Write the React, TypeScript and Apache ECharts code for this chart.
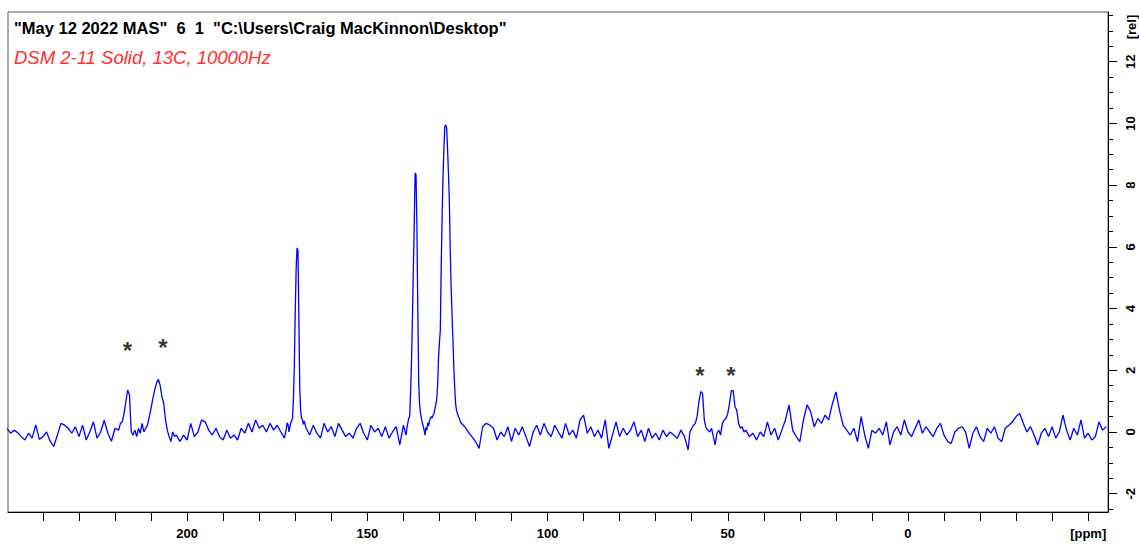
import { useEffect, useRef } from 'react';
import * as echarts from 'echarts';

// ---------- texts ----------
const titleLine = '"May 12 2022 MAS"  6  1  "C:\\Users\\Craig MacKinnon\\Desktop"';
const subtitleLine = 'DSM 2-11 Solid, 13C, 10000Hz';
const xUnitLabel = '[ppm]';
const yUnitLabel = '[rel]';

// ---------- axes ----------
const xMajorTicks = [200, 150, 100, 50, 0, -50];
const xMinorTicks = [240, 230, 220, 210, 200, 190, 180, 170, 160, 150, 140, 130, 120, 110, 100, 90, 80, 70, 60, 50, 40, 30, 20, 10, 0, -10, -20, -30, -40, -50];
const yMajorTicks = [-2, 0, 2, 4, 6, 8, 10, 12];
const yMinorTicks = [-2.5, -2, -1.5, -1, -0.5, 0, 0.5, 1, 1.5, 2, 2.5, 3, 3.5, 4, 4.5, 5, 5.5, 6, 6.5, 7, 7.5, 8, 8.5, 9, 9.5, 10, 10.5, 11, 11.5, 12, 12.5, 13, 13.5];

// ---------- spectrum (intensity, per ppm segment) ----------
// segment 1: 250 -> 219 ppm, step 1
const seg1Start = 250, seg1Step = 1;
const seg1 = [0.12, -0.04, 0.06, -0.02, -0.15, -0.26, -0.04, -0.2, 0.23, -0.24, -0.15, 0.0, -0.3, -0.47, -0.1, 0.28, 0.22, 0.12, -0.04, 0.17, -0.15, 0.22, -0.26, 0.0, 0.33, -0.2, 0.0, 0.38, -0.04, -0.3, 0.12, 0.06];
// segment 2: spinning sidebands, 218.5 -> 203 ppm, step 0.5
const seg2Start = 218.5, seg2Step = 0.5;
const seg2 = [0.28, 0.33, 0.6, 0.98, 1.36, 1.2, 0.0, -0.1, 0.06, -0.15, 0.12, -0.04, 0.28, 0.0, 0.12, 0.22, 0.5, 0.77, 1.09, 1.36, 1.58, 1.71, 1.52, 1.15, 0.93, 0.39, 0.06, -0.15, -0.31, 0.0, -0.15, -0.1];
// segment 3: 202 -> 173 ppm, step 1
const seg3Start = 202, seg3Step = 1;
const seg3 = [-0.31, -0.1, -0.26, 0.28, -0.15, 0.0, 0.39, 0.33, 0.06, -0.1, 0.12, -0.15, -0.26, 0.06, -0.2, -0.1, -0.26, 0.12, -0.04, 0.28, 0.0, 0.39, 0.12, 0.22, 0.0, 0.28, 0.06, 0.22, 0.0, -0.2];
// segment 4: carbonyl peak, 172.5 -> 167.5 ppm, step 0.25
const seg4Start = 172.5, seg4Step = 0.25;
const seg4 = [0.1, 0.3, 0.25, 0.0, 0.15, 0.3, 0.35, 0.45, 1.1, 2.2, 3.9, 5.3, 5.96, 5.9, 3.7, 1.4, 0.7, 0.45, 0.4, 0.25, 0.35];
// segment 5: 167 -> 140 ppm, step 1
const seg5Start = 167, seg5Step = 1;
const seg5 = [0.12, -0.1, 0.22, -0.04, -0.2, 0.28, 0.0, 0.17, -0.15, 0.28, 0.06, -0.15, -0.04, -0.2, 0.12, 0.28, -0.04, -0.26, 0.22, 0.0, 0.12, -0.15, 0.17, -0.2, 0.0, 0.17, -0.42, 0.22];
// segment 6: 137 ppm peak, 139.5 -> 132 ppm, step 0.25
const seg6Start = 139.5, seg6Step = 0.25;
const seg6 = [0.0, -0.1, 0.15, 0.3, 0.45, 0.5, 1.3, 2.3, 3.6, 5.2, 6.6, 8.39, 8.35, 6.7, 4.0, 1.6, 0.9, 0.6, 0.45, 0.3, 0.2, 0.05, -0.1, 0.15, 0.05, 0.3, 0.2, 0.35, 0.45, 0.5, 0.45];
// segment 7: 128 ppm peak, 131.75 -> 124 ppm, step 0.25
const seg7Start = 131.75, seg7Step = 0.25;
const seg7 = [0.55, 0.6, 0.75, 0.9, 1.05, 1.5, 2.4, 2.9, 3.3, 5.4, 7.0, 8.3, 9.2, 9.9, 9.95, 9.85, 9.2, 8.4, 7.5, 5.9, 4.7, 3.8, 3.0, 2.1, 1.4, 0.9, 0.7, 0.6, 0.5, 0.45, 0.35, 0.3];
// segment 8: 123 -> 61 ppm, step 1
const seg8Start = 123, seg8Step = 1;
const seg8 = [0.17, 0.0, -0.15, -0.31, -0.53, 0.17, 0.28, 0.22, 0.12, -0.26, 0.0, -0.15, 0.17, -0.31, 0.12, -0.1, 0.17, -0.15, -0.47, 0.0, 0.22, -0.1, 0.28, 0.0, -0.15, 0.22,
  0.0, -0.2, 0.28, -0.1, 0.06, -0.2, 0.39, 0.55, -0.04, 0.17, -0.15, 0.06, -0.2, 0.39, -0.53, -0.1, 0.33, -0.15, 0.12, -0.1, 0.06, 0.33, -0.15, 0.06, -0.31, 0.12, -0.2, -0.04, -0.26, 0.06, -0.15, 0.0, -0.1, -0.2, 0.06, -0.15, -0.58];
// segment 9: spinning sidebands, 60.5 -> 45 ppm, step 0.5
const seg9Start = 60.5, seg9Step = 0.5;
const seg9 = [0.0, 0.12, 0.22, 0.28, 0.5, 0.98, 1.31, 1.25, 0.39, 0.12, 0.06, 0.0, 0.12, -0.15, -0.42, -0.04, 0.06, -0.1, 0.28, 0.39, 0.44, 0.6, 0.93, 1.34, 1.34, 0.82, 0.71, 0.28, 0.12, 0.17, 0.0, 0.06];
// segment 10: 44 -> -55 ppm, step 1
const seg10Start = 44, seg10Step = 1;
const seg10 = [-0.15, -0.04, -0.26, 0.0, -0.15, 0.33, -0.1, 0.12, -0.26, 0.06, 0.39, 0.88, 0.06, -0.15, -0.31, 0.39, 0.88, 0.66, 0.17, 0.44, 0.28, 0.55, 0.39,
  0.9, 1.3, 0.71, 0.22, 0.06, -0.1, 0.12, -0.31, 0.5, -0.1, -0.53, 0.06, -0.04, 0.12, -0.1, 0.33, -0.42, 0.0, 0.17, -0.1, 0.39, 0.0,
  -0.15, 0.12, 0.39, -0.04, 0.17, 0.0, -0.15, 0.12, 0.28, -0.1, -0.31, -0.37, 0.0, 0.12, 0.17, 0.0, -0.53, -0.04, 0.17, -0.15, -0.31, 0.12, -0.04, 0.17, -0.2, -0.31,
  0.12, 0.22, 0.33, 0.5, 0.6, 0.28, 0.0, 0.17, -0.1, -0.42, -0.04, 0.12, -0.15, 0.17, -0.2, 0.0, 0.55, 0.06, -0.26, 0.12, -0.1, 0.39, -0.2, -0.04, -0.26, -0.15, 0.33, 0.06, 0.17];

// sideband markers [ppm, rel]
const sidebandMarks = [[216.6, 2.75], [206.7, 2.82], [57.7, 1.94], [49.1, 1.94]];

const segments = [
  { start: seg1Start, step: seg1Step, values: seg1 },
  { start: seg2Start, step: seg2Step, values: seg2 },
  { start: seg3Start, step: seg3Step, values: seg3 },
  { start: seg4Start, step: seg4Step, values: seg4 },
  { start: seg5Start, step: seg5Step, values: seg5 },
  { start: seg6Start, step: seg6Step, values: seg6 },
  { start: seg7Start, step: seg7Step, values: seg7 },
  { start: seg8Start, step: seg8Step, values: seg8 },
  { start: seg9Start, step: seg9Step, values: seg9 },
  { start: seg10Start, step: seg10Step, values: seg10 },
];

function buildSpectrum() {
  const pts: number[][] = [];
  segments.forEach((s) => {
    s.values.forEach((v, i) => pts.push([+(s.start - i * s.step).toFixed(3), v]));
  });
  return pts;
}

const FONT = 'Liberation Sans, Arial, sans-serif';

export default function App() {
  const ref = useRef<HTMLDivElement>(null);
  useEffect(() => {
    document.body.style.margin = '0';
    const chart = echarts.init(ref.current!, null, { renderer: 'svg' });
    const xBase = { type: 'value', min: -55.5, max: 249.7, inverse: true, position: 'bottom', splitLine: { show: false } };
    const yBase = { type: 'value', min: -2.593, max: 13.61, position: 'right', splitLine: { show: false } };
    chart.setOption({
      animation: false,
      backgroundColor: '#ffffff',
      grid: { left: 8, right: 31, top: 12, bottom: 32, show: true, borderColor: '#555', borderWidth: 1, backgroundColor: 'transparent' },
      xAxis: [
        {
          ...xBase,
          axisLine: { show: true, onZero: false, lineStyle: { color: '#000', width: 1 } },
          axisTick: { show: true, length: 9, customValues: xMajorTicks, lineStyle: { color: '#000' } },
          axisLabel: {
            show: true, customValues: xMajorTicks, margin: 15, color: '#000', fontSize: 13, fontWeight: 'bold', fontFamily: FONT,
            formatter: (v: number) => (v === -50 ? xUnitLabel : String(v)),
          },
        },
        {
          ...xBase,
          axisLine: { show: false, onZero: false },
          axisTick: { show: true, length: 9, customValues: xMinorTicks, lineStyle: { color: '#000' } },
          axisLabel: { show: false },
        },
      ],
      yAxis: [
        {
          ...yBase,
          axisLine: { show: true, onZero: false, lineStyle: { color: '#000', width: 1 } },
          axisTick: { show: true, length: 9, customValues: yMajorTicks, lineStyle: { color: '#000' } },
          axisLabel: { show: true, customValues: yMajorTicks, rotate: 90, margin: 16, color: '#000', fontSize: 13, fontWeight: 'bold', fontFamily: FONT },
        },
        {
          ...yBase,
          axisLine: { show: false, onZero: false },
          axisTick: { show: true, length: 5, customValues: yMinorTicks, lineStyle: { color: '#000' } },
          axisLabel: { show: false },
        },
      ],
      graphic: [
        { type: 'text', left: 14, top: 19, style: { text: titleLine, fill: '#000', font: `bold 16.5px ${FONT}` } },
        { type: 'text', left: 14, top: 48, style: { text: subtitleLine, fill: '#ff3030', font: `italic 18.5px ${FONT}` } },
        { type: 'text', x: 1131, y: 27, rotation: Math.PI / 2, style: { text: yUnitLabel, fill: '#000', font: `bold 13px ${FONT}`, align: 'center', verticalAlign: 'middle' } },
      ],
      series: [
        {
          type: 'line',
          xAxisIndex: 0,
          yAxisIndex: 0,
          data: buildSpectrum(),
          showSymbol: false,
          symbol: 'none',
          lineStyle: { color: '#0000ff', width: 1.3 },
          clip: true,
          silent: true,
        },
        {
          type: 'scatter',
          xAxisIndex: 0,
          yAxisIndex: 0,
          data: sidebandMarks,
          symbolSize: 1,
          itemStyle: { color: 'transparent' },
          label: { show: true, formatter: () => '*', position: 'inside', offset: [0, 3], color: '#000', fontSize: 24, fontWeight: 'bold', fontFamily: FONT },
          silent: true,
        },
      ],
    });
    return () => chart.dispose();
  }, []);
  return <div ref={ref} style={{ width: 1139, height: 544 }} />;
}
